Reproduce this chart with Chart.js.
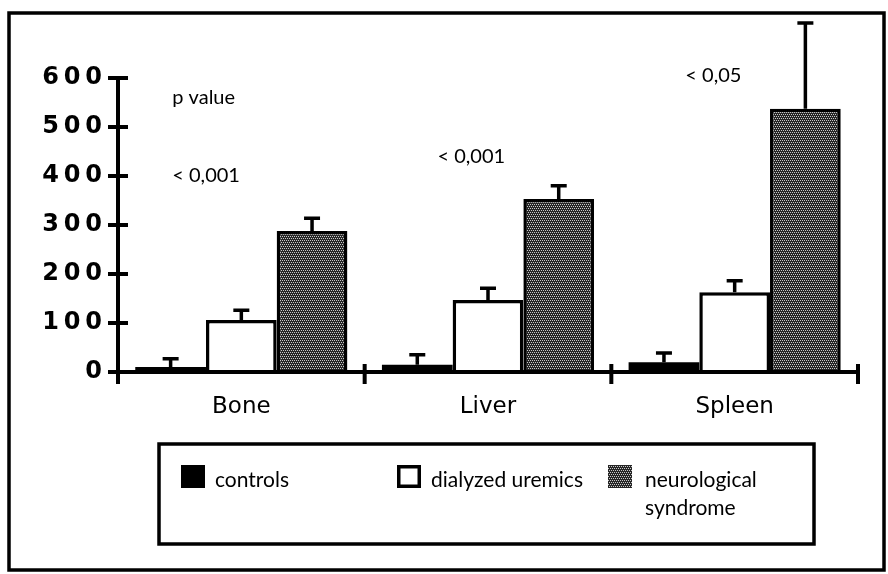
<!DOCTYPE html>
<html>
<head>
<meta charset="utf-8">
<title>Bone Liver Spleen</title>
<script src="https://cdn.jsdelivr.net/npm/chart.js@4.4.0/dist/chart.umd.min.js"></script>
<style>
html, body { margin: 0; padding: 0; background: #fff; }
canvas { display: block; }
</style>
</head>
<body>
<canvas id="migrafico" width="888" height="574"></canvas>
<script>
// datos
const organos = ["Bone", "Liver", "Spleen"];
const controles = [10, 15, 20];
const controlesSd = [17, 20, 19];
const dializados = [106, 147, 163];
const dializadosSd = [20, 24, 23];
const neuro = [288, 353, 537];
const neuroSd = [26, 27, 175];
const etiquetasY = ["0", "100", "200", "300", "400", "500", "600"];
const series = ["controls", "dialyzed uremics", "neurological syndrome"];
// textos de p value: categoria, desplazamiento, valor en eje y
const notas = [
    { texto: "p value", cat: 0, dx: -0.28, valor: 561 },
    { texto: "< 0,001", cat: 0, dx: -0.28, valor: 400 },
    { texto: "< 0,001", cat: 1, dx: -0.205, valor: 439 },
    { texto: "< 0,05", cat: 2, dx: -0.2, valor: 606 }
];

const ctx = document.getElementById("migrafico").getContext("2d");
const fuente = "Lato, 'DejaVu Sans', sans-serif";

function crearTrama() {
    const c = document.createElement("canvas");
    c.width = 4; c.height = 4;
    const t = c.getContext("2d");
    t.fillStyle = "#262626";
    t.fillRect(0, 0, 4, 4);
    t.fillStyle = "#c8c8c8";
    [[0, 0], [2, 0], [1, 2], [3, 2]].forEach(p => t.fillRect(p[0], p[1], 1, 1));
    return ctx.createPattern(c, "repeat");
}
const trama = crearTrama();

const errores = [controlesSd, dializadosSd, neuroSd];

const barrasError = {
    id: "barrasError",
    afterDatasetsDraw(chart) {
        const y = chart.scales.y;
        const c = chart.ctx;
        c.save();
        c.strokeStyle = "#000";
        c.lineWidth = 3.5;
        chart.data.datasets.forEach((ds, i) => {
            chart.getDatasetMeta(i).data.forEach((bar, j) => {
                const arriba = y.getPixelForValue(ds.data[j] + errores[i][j]);
                c.beginPath();
                c.moveTo(bar.x, bar.y);
                c.lineTo(bar.x, arriba);
                c.moveTo(bar.x - 8, arriba);
                c.lineTo(bar.x + 8, arriba);
                c.stroke();
            });
        });
        c.restore();
    }
};

const ejes = {
    id: "ejes",
    afterDatasetsDraw(chart) {
        const c = chart.ctx;
        const x = chart.scales.x;
        const y = chart.scales.y;
        const cero = y.getPixelForValue(0);
        const izq = chart.chartArea.left;
        const der = chart.chartArea.right;
        c.save();
        c.strokeStyle = "#000";
        c.lineWidth = 4;
        c.beginPath();
        c.moveTo(izq, cero + 12);
        c.lineTo(izq, y.getPixelForValue(600));
        c.moveTo(izq, cero);
        c.lineTo(der, cero);
        y.ticks.forEach(t => {
            const py = y.getPixelForValue(t.value);
            c.moveTo(izq - 10, py);
            c.lineTo(izq + 10, py);
        });
        const ancho = (x.right - x.left) / organos.length;
        for (let i = 1; i <= organos.length; i++) {
            const px = x.left + ancho * i;
            c.moveTo(px, cero - 8);
            c.lineTo(px, cero + 12);
        }
        c.stroke();

        // textos p value
        c.fillStyle = "#000";
        c.font = "20px " + fuente;
        c.textAlign = "left";
        c.textBaseline = "middle";
        notas.forEach(n => {
            const px = x.getPixelForValue(n.cat) + n.dx * ancho;
            c.fillText(n.texto, px, y.getPixelForValue(n.valor));
        });
        c.restore();
    },
    afterDraw(chart) {
        const c = chart.ctx;
        c.save();
        c.strokeStyle = "#000";
        c.lineWidth = 3.5;
        // marco exterior
        c.strokeRect(9, 13, 875, 557);
        // caja de leyenda
        c.strokeRect(159, 444, 655, 100);
        const xs = [181, 397, 608];
        c.font = "21px " + fuente;
        c.textAlign = "left";
        c.textBaseline = "middle";
        chart.data.datasets.forEach((ds, i) => {
            const sx = xs[i];
            c.fillStyle = ds.backgroundColor;
            c.fillRect(sx, 465, 24, 23);
            if (i === 1) {
                c.lineWidth = 3.5;
                c.strokeRect(sx + 1.75, 466.75, 20.5, 19.5);
            }
            c.fillStyle = "#000";
            if (i === 2) {
                c.fillText("neurological", sx + 37, 480);
                c.fillText("syndrome", sx + 37, 508);
            } else {
                c.fillText(ds.label, sx + 34, 480);
            }
        });
        c.restore();
    }
};

const myChart = new Chart(ctx, {
    type: "bar",
    data: {
        labels: organos,
        datasets: [
            {
                label: series[0],
                data: controles,
                backgroundColor: "#000",
                borderColor: "#000",
                borderWidth: 0
            },
            {
                label: series[1],
                data: dializados,
                backgroundColor: "#fff",
                borderColor: "#000",
                borderWidth: 3.5
            },
            {
                label: series[2],
                data: neuro,
                backgroundColor: trama,
                borderColor: "#000",
                borderWidth: 3.5
            }
        ]
    },
    options: {
        responsive: false,
        animation: false,
        layout: { padding: { top: 78, right: 30, bottom: 0, left: 0 } },
        datasets: {
            bar: { categoryPercentage: 0.86, barPercentage: 1.0 }
        },
        plugins: {
            legend: { display: false },
            tooltip: { enabled: false }
        },
        scales: {
            x: {
                grid: { display: false, drawTicks: false },
                border: { display: false },
                ticks: {
                    padding: 21,
                    color: "#000",
                    font: { family: "'DejaVu Sans', sans-serif", size: 23 }
                },
                afterFit(scale) { scale.height = 202; }
            },
            y: {
                min: 0,
                max: 600,
                grid: { display: false, drawTicks: false },
                border: { display: false },
                ticks: {
                    stepSize: 100,
                    padding: 16,
                    color: "#000",
                    font: { family: "'DejaVu Sans', sans-serif", size: 24, weight: "bold" },
                    callback: (v, i) => etiquetasY[i].split("").join("\u2009")
                },
                afterFit(scale) { scale.width = 118; }
            }
        }
    },
    plugins: [barrasError, ejes]
});
</script>
</body>
</html>
